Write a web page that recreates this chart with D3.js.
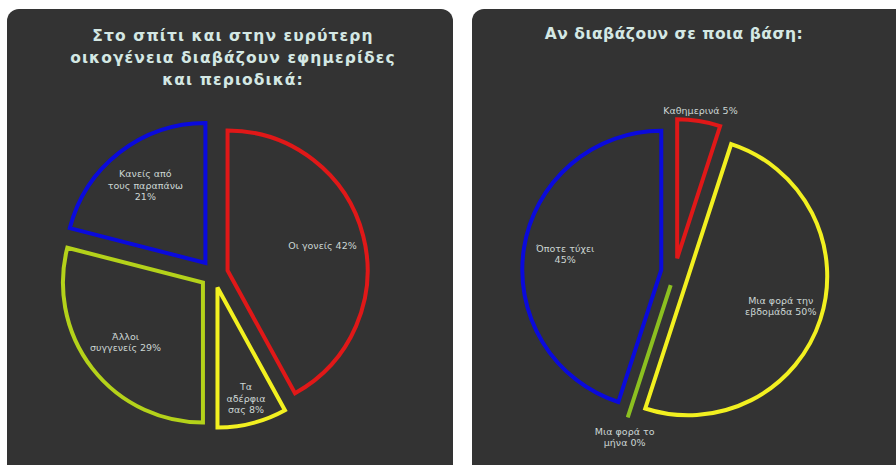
<!DOCTYPE html>
<html><head><meta charset="utf-8">
<script src="https://cdn.jsdelivr.net/npm/d3@7"></script>
<style>
html,body{margin:0;padding:0;background:#ffffff;}
svg{display:block;}
</style></head>
<body>
<svg id="chart" width="896" height="465"></svg>
<script>
// ---- data ----
const title1Lines = ["Στο σπίτι και στην ευρύτερη", "οικογένεια διαβάζουν εφημερίδες", "και περιοδικά:"];
const cats1 = [["Οι γονείς 42%"], ["Τα", "αδέρφια", "σας 8%"], ["Άλλοι", "συγγενείς 29%"], ["Κανείς από", "τους παραπάνω", "21%"]];
const values1 = [42, 8, 29, 21];
const colors1 = ["#e01818", "#f2f020", "#b4d21a", "#0a0adc"];

const title2Lines = ["Αν διαβάζουν σε ποια βάση:"];
const cats2 = [["Καθημερινά 5%"], ["Μια φορά την", "εβδομάδα 50%"], ["Μια φορά το", "μήνα 0%"], ["Όποτε τύχει", "45%"]];
const values2 = [5, 50, 0, 45];
const colors2 = ["#e01818", "#f2f020", "#8cc020", "#0a0adc"];

const svg = d3.select("#chart");
const panelFill = "#333333";
const titleCol = "#d4e8e4";
const labelCol = "#ccd6d4";

function panel(x, w, cx, cy, r, titleLines, titleY, titleSpacing, cats, values, colors, titleX) {
  const g = svg.append("g");
  g.append("rect").attr("x", x).attr("y", 9).attr("width", w).attr("height", 470)
    .attr("rx", 12).attr("ry", 12).attr("fill", panelFill);

  const t = g.append("text").attr("x", titleX).attr("y", titleY)
    .attr("text-anchor", "middle")
    .attr("font-family", "DejaVu Sans, sans-serif").attr("font-weight", "bold")
    .attr("font-size", 15.5).attr("letter-spacing", titleSpacing).attr("fill", titleCol);
  titleLines.forEach((l, i) => t.append("tspan").attr("x", titleX).attr("dy", i ? 22 : 0).text(l));

  const pie = d3.pie().sort(null).value(d => d);
  const arcs = pie(values);
  const arc = d3.arc().innerRadius(0).outerRadius(r);
  const off = r * 0.1;
  const pg = g.append("g").attr("transform", `translate(${cx},${cy})`);
  arcs.forEach((a, i) => {
    const mid = (a.startAngle + a.endAngle) / 2;
    const ox = Math.sin(mid) * off, oy = -Math.cos(mid) * off;
    const sg = pg.append("g").attr("transform", `translate(${ox},${oy})`);
    sg.append("path").attr("d", arc(a)).attr("fill", "none")
      .attr("stroke", colors[i]).attr("stroke-width", 4).attr("stroke-linejoin", "miter");
    const lines = cats[i];
    const lh = 11.5;
    let lr, outside = false;
    if (values[i] <= 5) { lr = r + 10; outside = true; }
    else if (values[i] < 10) lr = r * 0.82;
    else lr = r * 0.7;
    const lx = Math.sin(mid) * lr, ly = -Math.cos(mid) * lr;
    let y0;
    if (outside) {
      y0 = Math.cos(mid) > 0 ? ly + 3 - (lines.length - 1) * lh : ly + 8;
    } else {
      y0 = ly - (lines.length - 1) * lh / 2 + 3;
    }
    const lt = sg.append("text").attr("text-anchor", "middle")
      .attr("font-family", "DejaVu Sans, sans-serif").attr("font-size", 9.5)
      .attr("fill", labelCol);
    lines.forEach((l, j) => lt.append("tspan").attr("x", lx).attr("y", y0 + j * lh).text(l));
  });
}

panel(7, 446, 214, 274, 140, title1Lines, 41, 1.1, cats1, values1, colors1, 233);
panel(472, 440, 675, 272, 139, title2Lines, 39, 0.5, cats2, values2, colors2, 674);
</script>
</body></html>
